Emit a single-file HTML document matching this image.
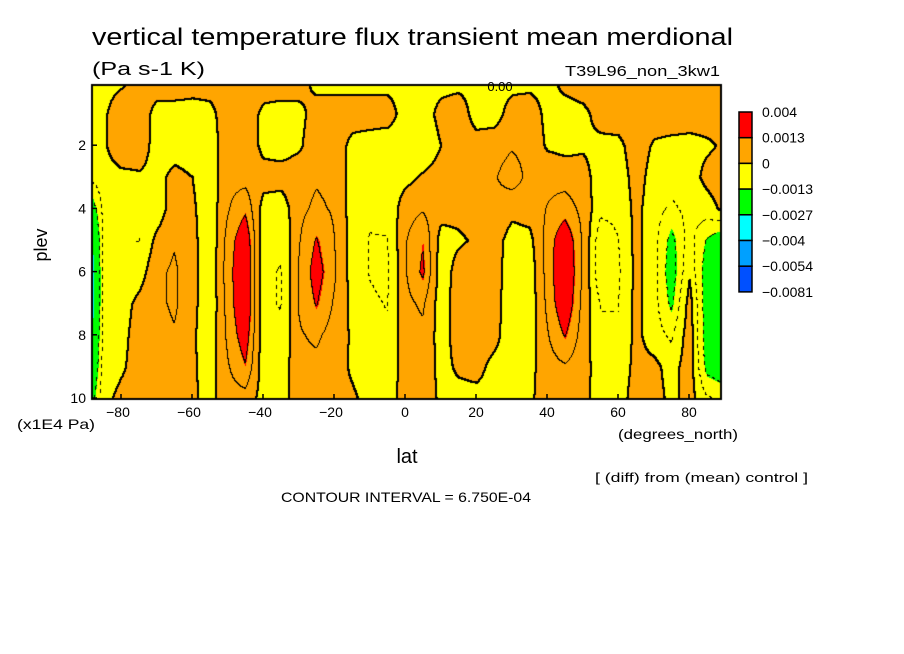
<!DOCTYPE html>
<html><head><meta charset="utf-8">
<style>
html,body{margin:0;padding:0;background:#fff;}
#wrap{position:relative;width:904px;height:654px;overflow:hidden;}
canvas{position:absolute;left:0;top:0;}
svg{position:absolute;left:0;top:0;}
text{font-family:"Liberation Sans",sans-serif;fill:#000;}
</style></head>
<body>
<div id="wrap">
<canvas id="cv" width="904" height="654"></canvas>
<svg id="sv" width="904" height="654">
<text x="92" y="45" font-size="24" textLength="641" lengthAdjust="spacingAndGlyphs">vertical temperature flux transient mean merdional</text>
<text x="92" y="75" font-size="18" textLength="113" lengthAdjust="spacingAndGlyphs">(Pa s-1 K)</text>
<text x="565" y="76" font-size="15" textLength="155" lengthAdjust="spacingAndGlyphs">T39L96_non_3kw1</text>
<text x="47" y="245" font-size="18" text-anchor="middle" transform="rotate(-90 47 245)">plev</text>
<text x="17" y="429" font-size="14" textLength="78" lengthAdjust="spacingAndGlyphs">(x1E4 Pa)</text>
<text x="618" y="439" font-size="14" textLength="120" lengthAdjust="spacingAndGlyphs">(degrees_north)</text>
<text x="407" y="463" font-size="20" text-anchor="middle">lat</text>
<text x="595" y="482" font-size="13" textLength="213" lengthAdjust="spacingAndGlyphs">[ (diff) from (mean) control ]</text>
<text x="281" y="502" font-size="14" textLength="250" lengthAdjust="spacingAndGlyphs">CONTOUR INTERVAL = 6.750E-04</text>
<g id="ticks"></g>
<g id="legend"></g>
</svg>
</div>
<script>
// ---- data (units of 1e-4 Pa s-1 K) ----
const lats = [-90,-85,-80,-75,-70,-65,-60,-55,-50,-45,-40,-35,-30,-25,-20,-15,-10,-5,0,5,10,15,20,25,30,35,40,45,50,55,60,65,70,75,80,85,90];
const plevs = [0,1,2,3,4,5,6,7,8,9,10];
const values = [
[-2,-3,-3,-6,-25,-40,-45,-45,-40,-35,-25],
[-2,-1,-1,-3,-5,-6,-6,-6,-5,-4,-2],
[-1,4,5,-2,-4,-6,-5,-3,-2,-1,2],
[2,5,4,-1,-5,-7,-3,2,3,3,3],
[4,-3,-3,-2,-4,2,5,5,4,3,2],
[4,-3,-3,2,4,6,8,8,6,4,2],
[3,-3,-4,0,1,2,2,2,1,1,1],
[3,-2,-4,-4,-4,-5,-5,-5,-4,-3,-2],
[4,4,5,5,6,9,10,9,8,6,4],
[4,5,5,4,12,20,22,22,18,13,4],
[4,-2,-2,3,-3,-5,-6,-6,-5,-4,-3],
[4,-3,-3,3,-4,-6,-7,-7,-6,-4,-3],
[3,-2,-1,4,5,6,7,7,6,5,4],
[-2,3,4,6,8,14,17,14,8,5,3],
[-2,3,4,5,6,7,8,6,4,3,2],
[-2,3,-2,-3,-3,-3,-3,-2,-1,-1,1],
[-2,3,-3,-5,-6,-7,-7,-6,-5,-4,-2],
[-2,3,-4,-4,-5,-7,-8,-7,-6,-4,-2],
[-2,-3,-4,-2,4,6,6,5,4,3,2],
[-2,-3,-5,1,6,13,15,8,5,4,3],
[-2,2,0,3,3,-3,-4,-4,-3,-2,-1],
[-2,4,4,4,2,-1,3,4,3,1,-2],
[-2,-3,3,5,3,1,5,5,4,2,-2],
[-2,-3,4,6,5,3,4,3,2,-2,-2],
[-2,3,6,10,2,-3,-5,-5,-4,-3,-2],
[-2,4,5,5,3,-2,-4,-4,-3,-2,-1],
[-2,-2,-1,5,7,9,9,8,6,4,3],
[2,-3,-2,4,10,20,22,20,14,6,3],
[4,-2,-1,3,5,6,6,5,4,3,2],
[5,3,-2,-4,-5,-11,-12,-7,-6,-4,-3],
[5,4,-2,-4,-5,-7,-8,-7,-6,-4,-3],
[5,5,4,3,2,2,2,2,2,2,3],
[5,4,-1,-3,-4,-4,-4,-4,-4,2,3],
[5,4,-2,-4,-8,-16,-18,-15,-8,-3,-2],
[4,3,-2,-3,-5,-4,-1,3,4,4,3],
[4,3,-1,2,-3,-14,-18,-18,-18,-16,-6],
[4,3,1,4,2,-20,-22,-22,-22,-20,-8]
];
const levelBounds = [13,0,-13,-27,-40,-54];
const levelColors = ['#ff0000','#ffa500','#ffff00','#00ff00','#00ffff','#00a0ff','#0050ff'];
const legendLabels = ['0.004','0.0013','0','\u22120.0013','\u22120.0027','\u22120.004','\u22120.0054','\u22120.0081'];
const xTicks = [-80,-60,-40,-20,0,20,40,60,80];
const yTicks = [2,4,6,8,10];

// ---- axes ----
const X0=92,X1=721,Y0=85,Y1=399;
const xs = lat => 405 + lat*3.55;
const ys = p => 398 - (10-p)*31.6;
const latOf = x => (x-405)/3.55;
const pOf = y => 10 - (398-y)/31.6;

function sample(lat,p){
  let fi=(lat-lats[0])/5; fi=Math.max(0,Math.min(lats.length-1.0001,fi));
  let fj=p-plevs[0]; fj=Math.max(0,Math.min(plevs.length-1.0001,fj));
  const i=Math.floor(fi), j=Math.floor(fj), a=fi-i, b=fj-j;
  const v00=values[i][j], v10=values[i+1][j], v01=values[i][j+1], v11=values[i+1][j+1];
  return (v00*(1-a)+v10*a)*(1-b)+(v01*(1-a)+v11*a)*b;
}
function colorIdx(v){
  for(let k=0;k<levelBounds.length;k++) if(v>=levelBounds[k]) return k;
  return levelColors.length-1;
}
const cv=document.getElementById('cv'), ctx=cv.getContext('2d');
const W=X1-X0, H=Y1-Y0;
const grid=[];
for(let y=0;y<=H;y++){grid[y]=[];for(let x=0;x<=W;x++) grid[y][x]=sample(latOf(X0+x),pOf(Y0+y));}
for(let y=0;y<H;y++)for(let x=0;x<W;x++){
  ctx.fillStyle=levelColors[colorIdx(grid[y][x])];
  ctx.fillRect(X0+x,Y0+y,1,1);
}
// contour lines
const CI=6.75;
const clev=[-2*CI,-CI,0,CI,2*CI];
ctx.fillStyle='#000';
for(let y=0;y<H;y++)for(let x=0;x<W;x++){
  const v=grid[y][x], r=grid[y][x+1], d=grid[y+1][x];
  for(const L of clev){
    if((v-L)*(r-L)<0||(v-L)*(d-L)<0){
      if(L<0 && ((x+y)%8)>=4) continue;
      const w=(L===0)?2:1;
      ctx.fillRect(X0+x,Y0+y,w,w);
    }
  }
}
ctx.strokeStyle='#000';ctx.lineWidth=2;
ctx.strokeRect(X0,Y0,W,H);

// ticks and labels
const NS='http://www.w3.org/2000/svg';
const tg=document.getElementById('ticks');
for(const t of xTicks){
  const l=document.createElementNS(NS,'line');
  l.setAttribute('x1',xs(t));l.setAttribute('x2',xs(t));l.setAttribute('y1',Y1);l.setAttribute('y2',Y1-5);
  l.setAttribute('stroke','#000');l.setAttribute('stroke-width','1.5');
  
  
  tg.appendChild(l);
  const tx=document.createElementNS(NS,'text');
  tx.setAttribute('x',xs(t)+(t<0?-3:0));tx.setAttribute('y',417);tx.setAttribute('font-size','14');tx.setAttribute('text-anchor','middle');
  tx.textContent=(t<0?'\u2212'+(-t):String(t));
  
  
  tg.appendChild(tx);
}
for(const t of yTicks){
  const l=document.createElementNS(NS,'line');
  l.setAttribute('x1',X0);l.setAttribute('x2',X0+5);l.setAttribute('y1',ys(t));l.setAttribute('y2',ys(t));
  l.setAttribute('stroke','#000');l.setAttribute('stroke-width','1.5');
  
  
  tg.appendChild(l);
  const tx=document.createElementNS(NS,'text');
  tx.setAttribute('x',86);tx.setAttribute('y',ys(t)+5);tx.setAttribute('font-size','14');tx.setAttribute('text-anchor','end');
  tx.textContent=String(t);
  
  
  tg.appendChild(tx);
}
// contour label at top
const cl=document.createElementNS(NS,'text');
cl.setAttribute('x',500);cl.setAttribute('y',91);cl.setAttribute('font-size','13');cl.setAttribute('text-anchor','middle');
cl.textContent='0.00';


tg.appendChild(cl);

// legend
const lg=document.getElementById('legend');
const LX=739,LY=112,LH=25.7;
levelColors.forEach((c,k)=>{
  const r=document.createElementNS(NS,'rect');
  r.setAttribute('x',LX);r.setAttribute('y',LY+k*LH);r.setAttribute('width',13);r.setAttribute('height',LH);
  r.setAttribute('fill',c);r.setAttribute('stroke','#000');r.setAttribute('stroke-width','1.5');
  
  
  lg.appendChild(r);
});
legendLabels.forEach((s,k)=>{
  const t=document.createElementNS(NS,'text');
  t.setAttribute('x',762);t.setAttribute('y',LY+k*LH+5);t.setAttribute('font-size','14');
  t.textContent=s;
  
  
  lg.appendChild(t);
});
</script>
</body></html>
